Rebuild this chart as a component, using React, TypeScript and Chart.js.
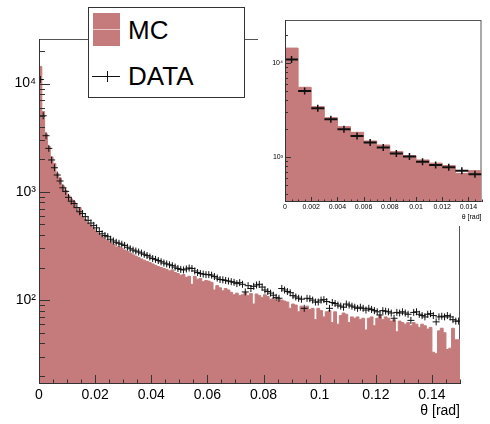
import React, { useEffect, useRef } from 'react';
import { Chart, registerables } from 'chart.js';

Chart.register(...registerables);
Chart.defaults.font.family = '"Liberation Sans", Arial, Helvetica, sans-serif';

// ---- histogram binning ----
const thetaRange = [0, 0.15];
const binWidth = 0.001;
const insetRange = [0, 0.015];

// ---- MC counts per bin (theta from 0 to 0.15, 150 bins) ----
const mcCounts = [
  14400, 5510, 3430, 2620, 2100, 1830, 1480, 1340, 1140, 1030, 930, 860, 810, 670, 715,
  590, 555, 510, 480, 455, 430, 400, 385, 365, 355, 340, 330, 310, 312, 300,
  290, 282, 272, 262, 255, 248, 240, 234, 228, 222, 216, 210, 204, 200, 196,
  192, 186, 190, 180, 176, 170, 172, 162, 166, 140, 166, 156, 158, 148, 152,
  150, 146, 124, 136, 130, 122, 128, 124, 118, 112, 116, 110, 112, 118, 110,
  115, 92, 114, 110, 106, 112, 108, 102, 104, 98, 102, 100, 98, 96, 84,
  92, 90, 78, 88, 86, 88, 82, 84, 66, 84, 80, 70, 78, 80, 62,
  78, 60, 72, 76, 74, 62, 70, 68, 70, 66, 68, 53, 68, 70, 58,
  68, 72, 66, 70, 68, 64, 66, 51, 64, 62, 60, 62, 58, 62, 60,
  56, 60, 58, 54, 56, 33, 32, 52, 55, 50, 35, 36, 55, 43, 43,
];

// ---- DATA counts per bin ----
const dataCounts = [
  10900, 5040, 3300, 2520, 1970, 1670, 1430, 1260, 1090, 1010, 890, 820, 780, 715, 655,
  630, 590, 546, 515, 490, 465, 430, 410, 395, 385, 365, 352, 342, 335, 328,
  320, 308, 298, 290, 284, 278, 272, 265, 258, 250, 242, 238, 232, 226, 220,
  216, 212, 208, 202, 196, 192, 190, 194, 198, 196, 186, 180, 176, 174, 172,
  172, 170, 165, 160, 155, 154, 152, 150, 148, 146, 142, 145, 140, 119, 136,
  128, 134, 138, 140, 132, 124, 120, 116, 111, 106, 104, 128, 124, 120, 117,
  110, 107, 104, 102, 84, 104, 103, 100, 96, 96, 100, 101, 97, 84, 95,
  93, 90, 88, 86, 92, 90, 88, 86, 84, 86, 84, 81, 84, 82, 80,
  78, 73, 80, 79, 78, 76, 68, 77, 76, 78, 76, 74, 65, 77, 78,
  74, 72, 70, 74, 75, 72, 63, 70, 71, 70, 72, 70, 66, 64, 64,
];

// ---- axis ranges & tick labels ----
const mainYRange = [16.8, 25800];
const insetYRange = [332, 28650];
const mainXTickLabels = ['0', '0.02', '0.04', '0.06', '0.08', '0.1', '0.12', '0.14'];
const insetXTickLabels = ['0', '0.002', '0.004', '0.006', '0.008', '0.01', '0.012', '0.014'];
const mainYTickExps = [2, 3, 4];
const mainYTickLabels = ['10²', '10³', '10⁴'];
const insetYTickExps = [3, 4];
const insetYTickLabels = ['10³', '10⁴'];
const axisTitle = 'θ [rad]';
const legendLabels = ['MC', 'DATA'];

const MC_COLOR = 'rgb(197,123,123)';

type Deco = {
  xMajor: number; xMinor: number; xMajorLen: number; xMinorLen: number;
  yMajorLen: number; yMinorLen: number;
};

function framePlugin(d: Deco) {
  return {
    id: 'rootFrame',
    beforeDatasetsDraw(chart: any) {
      const { ctx, chartArea: a } = chart;
      ctx.save();
      ctx.strokeStyle = '#555';
      ctx.lineWidth = 1;
      ctx.strokeRect(a.left + 0.5, a.top + 0.5, a.right - a.left - 1, a.bottom - a.top - 1);
      ctx.restore();
    },
    afterDatasetsDraw(chart: any) {
      const { ctx, chartArea: a } = chart;
      const xs = chart.scales.x;
      const ys = chart.scales.y;
      ctx.save();
      ctx.strokeStyle = '#333';
      ctx.lineWidth = 1;
      ctx.beginPath();
      const n = Math.round((xs.max - xs.min) / d.xMinor);
      for (let k = 0; k <= n; k++) {
        const v = xs.min + k * d.xMinor;
        const r = v / d.xMajor;
        const major = Math.abs(r - Math.round(r)) < 1e-6;
        const px = Math.round(xs.getPixelForValue(v)) + 0.5;
        ctx.moveTo(px, a.bottom);
        ctx.lineTo(px, a.bottom - (major ? d.xMajorLen : d.xMinorLen));
      }
      const lo = Math.floor(Math.log10(ys.min));
      const hi = Math.ceil(Math.log10(ys.max));
      for (let e = lo; e <= hi; e++) {
        for (let m = 1; m <= 9; m++) {
          const v = m * Math.pow(10, e);
          if (v < ys.min || v > ys.max) continue;
          const py = Math.round(ys.getPixelForValue(v)) + 0.5;
          ctx.moveTo(a.left, py);
          ctx.lineTo(a.left + (m === 1 ? d.yMajorLen : d.yMinorLen), py);
        }
      }
      // axis lines
      ctx.moveTo(a.left + 0.5, a.top);
      ctx.lineTo(a.left + 0.5, a.bottom);
      ctx.moveTo(a.left, a.bottom - 0.5);
      ctx.lineTo(a.right, a.bottom - 0.5);
      ctx.stroke();
      ctx.restore();
    },
  };
}

function buildConfig(p: {
  nBins: number; xRange: number[]; yRange: number[]; xStep: number;
  xLabels: string[]; yExps: number[]; yLabels: string[];
  tickFont: number; titleFont: number; titlePad: number; labelPad: number; yLabelPad: number;
  pad: { top: number; right: number }; yWidth: number; xHeight: number;
  deco: Deco; inset: boolean;
}) {
  const mc = mcCounts.slice(0, p.nBins);
  const dt = dataCounts.slice(0, p.nBins);
  const histPts = mc.map((v, i) => ({ x: p.xRange[0] + i * binWidth, y: v }));
  histPts.push({ x: p.xRange[0] + p.nBins * binWidth, y: mc[mc.length - 1] });
  const dataPts = dt.map((v, i) => ({ x: p.xRange[0] + (i + 0.5) * binWidth, y: v }));

  const datasets: any[] = [
    {
      label: 'MC',
      data: histPts,
      stepped: 'before',
      fill: 'start',
      backgroundColor: MC_COLOR,
      borderColor: MC_COLOR,
      borderWidth: 1,
      pointRadius: 0,
      order: 2,
    },
  ];
  if (p.inset) {
    datasets.push({
      label: 'DATA',
      data: dataPts,
      showLine: false,
      pointStyle: 'line',
      pointRadius: 6.5,
      pointBorderWidth: 2,
      pointBorderColor: '#111',
      pointBackgroundColor: '#111',
      order: 1,
    });
    datasets.push({
      label: 'DATA-err',
      data: dataPts,
      showLine: false,
      pointStyle: 'line',
      pointRotation: 90,
      pointRadius: 3.5,
      pointBorderWidth: 1.5,
      pointBorderColor: '#111',
      pointBackgroundColor: '#111',
      order: 0,
    });
  } else {
    datasets.push({
      label: 'DATA',
      data: dataPts,
      showLine: false,
      pointStyle: 'cross',
      pointRadius: 3.5,
      pointBorderWidth: 1,
      pointBorderColor: '#111',
      pointBackgroundColor: '#111',
      order: 1,
    });
  }

  return {
    type: 'line' as const,
    data: { datasets },
    options: {
      responsive: false,
      animation: false as const,
      events: [],
      layout: { padding: { left: 0, top: p.pad.top, right: p.pad.right, bottom: 0 } },
      plugins: { legend: { display: false }, tooltip: { enabled: false } },
      scales: {
        x: {
          type: 'linear' as const,
          min: p.xRange[0],
          max: p.xRange[1],
          grid: { display: false, drawTicks: false },
          border: { display: false },
          ticks: {
            stepSize: p.xStep,
            includeBounds: false,
            autoSkip: false,
            maxRotation: 0,
            padding: p.labelPad,
            color: '#000',
            font: { size: p.tickFont },
            callback: (_v: any, i: number) => p.xLabels[i] ?? '',
          },
          title: {
            display: true,
            text: axisTitle,
            align: 'end' as const,
            color: '#000',
            font: { size: p.titleFont },
            padding: { top: 0, bottom: p.titlePad },
          },
          afterFit: (s: any) => { s.height = p.xHeight; },
        },
        y: {
          type: 'logarithmic' as const,
          min: p.yRange[0],
          max: p.yRange[1],
          grid: { display: false, drawTicks: false },
          border: { display: false },
          ticks: {
            autoSkip: false,
            padding: p.yLabelPad,
            color: '#000',
            font: { size: p.tickFont },
            callback: (v: any) => {
              const e = Math.log10(Number(v));
              const r = Math.round(e);
              if (Math.abs(e - r) > 1e-9) return '';
              const idx = p.yExps.indexOf(r);
              return idx >= 0 ? p.yLabels[idx] : '';
            },
          },
          afterFit: (s: any) => { s.width = p.yWidth; },
        },
      },
    },
    plugins: [framePlugin(p.deco)],
  };
}

export default function App() {
  const mainRef = useRef<HTMLCanvasElement>(null);
  const insetRef = useRef<HTMLCanvasElement>(null);

  useEffect(() => {
    const main = new Chart(mainRef.current as HTMLCanvasElement, buildConfig({
      nBins: Math.round((thetaRange[1] - thetaRange[0]) / binWidth),
      xRange: thetaRange,
      yRange: mainYRange,
      xStep: 0.02,
      xLabels: mainXTickLabels,
      yExps: mainYTickExps,
      yLabels: mainYTickLabels,
      tickFont: 14,
      titleFont: 14,
      titlePad: 4,
      labelPad: 3,
      yLabelPad: 3,
      pad: { top: 39, right: 30 },
      yWidth: 39,
      xHeight: 40,
      deco: { xMajor: 0.02, xMinor: 0.005, xMajorLen: 9, xMinorLen: 4.5, yMajorLen: 11, yMinorLen: 6 },
      inset: false,
    }) as any);
    const inset = new Chart(insetRef.current as HTMLCanvasElement, buildConfig({
      nBins: Math.round((insetRange[1] - insetRange[0]) / binWidth),
      xRange: insetRange,
      yRange: insetYRange,
      xStep: 0.002,
      xLabels: insetXTickLabels,
      yExps: insetYTickExps,
      yLabels: insetYTickLabels,
      tickFont: 7,
      titleFont: 7,
      titlePad: 5,
      labelPad: 1,
      yLabelPad: 2,
      pad: { top: 20, right: 6 },
      yWidth: 27,
      xHeight: 24,
      deco: { xMajor: 0.002, xMinor: 0.0005, xMajorLen: 5, xMinorLen: 2.5, yMajorLen: 6, yMinorLen: 3 },
      inset: true,
    }) as any);
    return () => { main.destroy(); inset.destroy(); };
  }, []);

  const font = '"Liberation Sans", Arial, Helvetica, sans-serif';
  return (
    <div style={{ position: 'fixed', left: 0, top: 0, width: 490, height: 424, background: '#fff', overflow: 'hidden', fontFamily: font }}>
      <canvas ref={mainRef} width={490} height={424} style={{ position: 'absolute', left: 0, top: 0 }} />
      <canvas ref={insetRef} width={232} height={226} style={{ position: 'absolute', left: 258, top: 0, background: '#fff' }} />
      <div style={{ position: 'absolute', left: 88, top: 7, width: 157, height: 91, boxSizing: 'border-box', border: '1px solid #333', background: '#fff' }}>
        <div style={{ position: 'absolute', left: 4, top: 5, width: 27, height: 33, background: MC_COLOR }}>
          <div style={{ position: 'absolute', left: 0, top: 16, width: 27, height: 1, background: 'rgba(235,210,210,0.9)' }} />
        </div>
        <div style={{ position: 'absolute', left: 39, top: 9, fontSize: 26, lineHeight: '26px', color: '#000', whiteSpace: 'nowrap' }}>{legendLabels[0]}</div>
        <div style={{ position: 'absolute', left: 3, top: 68, width: 28, height: 1, background: '#111' }} />
        <div style={{ position: 'absolute', left: 18, top: 63, width: 1, height: 11, background: '#111' }} />
        <div style={{ position: 'absolute', left: 39, top: 55, fontSize: 26, lineHeight: '26px', color: '#000', whiteSpace: 'nowrap' }}>{legendLabels[1]}</div>
      </div>
    </div>
  );
}
